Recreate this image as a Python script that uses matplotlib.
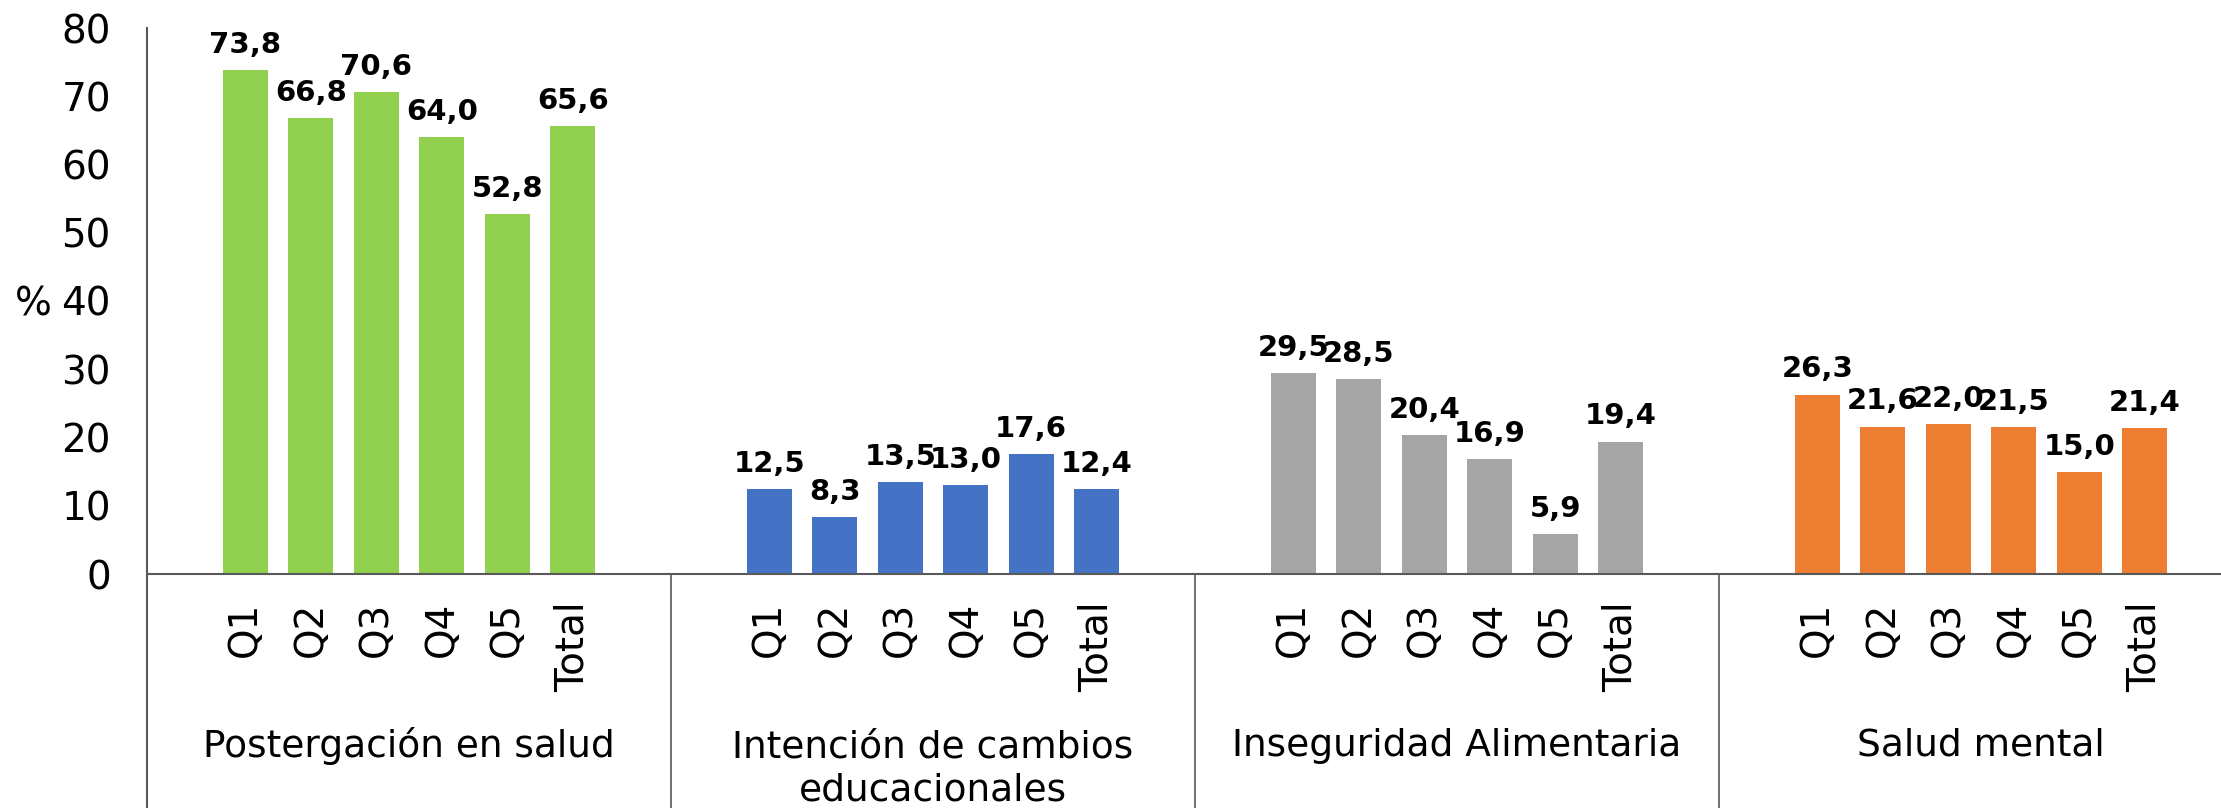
import matplotlib
matplotlib.use("Agg")
import matplotlib.pyplot as plt
import matplotlib.transforms as mtransforms
from matplotlib import font_manager

groups = ["Postergación en salud", "Intención de cambios\neducacionales",
          "Inseguridad Alimentaria", "Salud mental"]
tick_labels = ["Q1", "Q2", "Q3", "Q4", "Q5", "Total"]
postergacion = [73.8, 66.8, 70.6, 64.0, 52.8, 65.6]
intencion = [12.5, 8.3, 13.5, 13.0, 17.6, 12.4]
inseguridad = [29.5, 28.5, 20.4, 16.9, 5.9, 19.4]
salud_mental = [26.3, 21.6, 22.0, 21.5, 15.0, 21.4]
series = [postergacion, intencion, inseguridad, salud_mental]
colors = ["#92D050", "#4472C4", "#A5A5A5", "#ED7D31"]
yticks = [0, 10, 20, 30, 40, 50, 60, 70, 80]

names = {f.name for f in font_manager.fontManager.ttflist}
narrow = "Liberation Sans Narrow" if "Liberation Sans Narrow" in names else "DejaVu Sans"

W, H = 2221, 808
fig = plt.figure(figsize=(W / 100, H / 100), dpi=100)
left, base, top = 147, 574, 28
ax = fig.add_axes([left / W, (H - base) / H, 1 - left / W, (base - top) / H])

slots = 8
axis_col = "#595959"
xs_all, labs_all = [], []
for g, (vals, col) in enumerate(zip(series, colors)):
    xs = [g * slots + 1 + i for i in range(len(vals))]
    bars = ax.bar(xs, vals, width=0.68, color=col, zorder=2)
    ax.bar_label(bars, labels=[f"{v:.1f}".replace(".", ",") for v in vals],
                 padding=8, fontsize=21, fontweight="bold",
                 fontfamily=["DejaVu Sans"], color="black")
    xs_all += xs
    labs_all += tick_labels

ax.set_xlim(-0.5, -0.5 + (W - left) / 65.5)
ax.set_ylim(0, 80)
ax.set_yticks(yticks)
ax.set_yticklabels([str(t) for t in yticks], fontsize=28, fontfamily=[narrow, "DejaVu Sans"])
ax.set_xticks(xs_all)
ax.set_xticklabels(labs_all, rotation=90, fontsize=28, fontfamily=["DejaVu Sans"], va="top")
ax.tick_params(axis="y", length=0, pad=26)
ax.tick_params(axis="x", length=0, pad=20)

for s in ["top", "right", "left"]:
    ax.spines[s].set_visible(False)
ax.spines["bottom"].set_color(axis_col)
ax.spines["bottom"].set_linewidth(1.5)

trans = mtransforms.blended_transform_factory(ax.transData, ax.transAxes)
bottom_frac = -(H - base) / (base - top)
for g in range(len(series) + 1):
    xb = g * slots - 0.5
    ytop = 1.0 if g == 0 else 0.0
    ax.plot([xb, xb], [bottom_frac, ytop], transform=trans, color=axis_col,
            lw=1.5 if g == 0 else 1.2, clip_on=False)

lab_y = -(746 - base) / (base - top)
for g, name in enumerate(groups):
    cx = g * slots + 3.5
    y = lab_y if "\n" not in name else lab_y - (23 / (base - top))
    ax.text(cx, y, name, transform=trans, ha="center", va="center",
            fontsize=27, fontfamily=[narrow, "DejaVu Sans"], linespacing=1.25)

fig.text(33 / W, 1 - 305 / H, "%", ha="center", va="center", fontsize=28,
         fontfamily=[narrow, "DejaVu Sans"])

fig.savefig("out.png", dpi=100)
